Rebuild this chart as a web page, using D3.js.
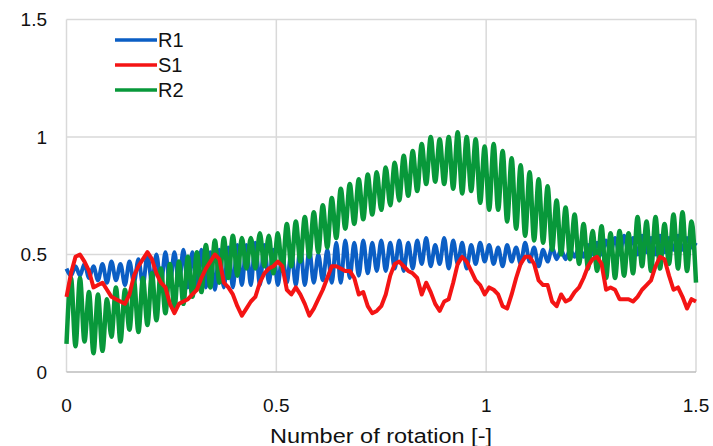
<!DOCTYPE html>
<html lang="en">
<head>
    <meta charset="utf-8">
    <title>Rotation chart</title>
    <script type="text/javascript" src="https://d3js.org/d3.v7.min.js"></script>
    <style type="text/css">
        body { margin: 0; background: #fff; }
        text { font-family: "Liberation Sans", Arial, sans-serif; fill: #111; }
    </style>
</head>
<body>
<script type="text/javascript">

    //Width and height
    var w = 713;
    var h = 446;

    // samples are taken every half oscillation, from 0 to 1.5 rotation
    var sample_count = 141;
    var x_max = 1.5;

    var series_names = ["R1", "S1", "R2"];
    var series_colors = ["#0b5ec4", "#f41414", "#08983a"];

    var x_ticks = [0, 0.5, 1, 1.5];
    var x_tick_labels = ["0", "0.5", "1", "1.5"];
    var y_ticks = [0, 0.5, 1, 1.5];
    var y_tick_labels = ["0", "0.5", "1", "1.5"];

    var r1_values = [
        0.44, 0.41, 0.45, 0.41, 0.46, 0.40, 0.45, 0.39, 0.46, 0.38,
        0.47, 0.39, 0.46, 0.37, 0.47, 0.38, 0.48, 0.37, 0.50, 0.38,
        0.50, 0.37, 0.51, 0.37, 0.51, 0.37, 0.52, 0.36, 0.51, 0.35,
        0.52, 0.36, 0.51, 0.35, 0.52, 0.36, 0.53, 0.36, 0.54, 0.37,
        0.54, 0.37, 0.55, 0.37, 0.54, 0.38, 0.52, 0.37, 0.50, 0.38,
        0.51, 0.37, 0.53, 0.37, 0.52, 0.38, 0.50, 0.39, 0.52, 0.38,
        0.55, 0.38, 0.56, 0.40, 0.55, 0.41, 0.56, 0.42, 0.55, 0.43,
        0.56, 0.43, 0.55, 0.44, 0.56, 0.43, 0.55, 0.44, 0.56, 0.46,
        0.57, 0.45, 0.54, 0.46, 0.57, 0.44, 0.56, 0.46, 0.55, 0.44,
        0.54, 0.46, 0.55, 0.47, 0.54, 0.46, 0.53, 0.45, 0.54, 0.47,
        0.53, 0.46, 0.55, 0.47, 0.53, 0.45, 0.52, 0.47, 0.53, 0.48,
        0.52, 0.48, 0.52, 0.49, 0.53, 0.49, 0.54, 0.50, 0.55, 0.50,
        0.56, 0.51, 0.57, 0.50, 0.58, 0.51, 0.57, 0.50, 0.58, 0.51,
        0.57, 0.50, 0.58, 0.51, 0.57, 0.52, 0.58, 0.52, 0.57, 0.53,
        0.55
    ];

    var s1_values = [
        0.32, 0.42, 0.49, 0.50, 0.47, 0.43, 0.36, 0.37, 0.38, 0.35,
        0.32, 0.31, 0.30, 0.29, 0.33, 0.41, 0.45, 0.48, 0.51, 0.48,
        0.42, 0.38, 0.36, 0.29, 0.25, 0.29, 0.30, 0.31, 0.33, 0.35,
        0.40, 0.44, 0.47, 0.50, 0.48, 0.38, 0.36, 0.33, 0.28, 0.24,
        0.27, 0.30, 0.32, 0.38, 0.42, 0.44, 0.45, 0.47, 0.45, 0.35,
        0.33, 0.36, 0.33, 0.29, 0.24, 0.27, 0.31, 0.35, 0.40, 0.45,
        0.45, 0.44, 0.43, 0.43, 0.40, 0.33, 0.34, 0.28, 0.25, 0.26,
        0.28, 0.33, 0.41, 0.46, 0.47, 0.45, 0.43, 0.42, 0.40, 0.33,
        0.38, 0.34, 0.29, 0.26, 0.30, 0.31, 0.38, 0.46, 0.49, 0.47,
        0.43, 0.39, 0.37, 0.33, 0.36, 0.35, 0.33, 0.28, 0.27, 0.33,
        0.40, 0.46, 0.49, 0.49, 0.46, 0.39, 0.37, 0.37, 0.30, 0.28,
        0.33, 0.30, 0.31, 0.34, 0.36, 0.40, 0.45, 0.48, 0.49, 0.46,
        0.35, 0.36, 0.35, 0.31, 0.31, 0.31, 0.30, 0.32, 0.35, 0.37,
        0.39, 0.45, 0.49, 0.48, 0.41, 0.35, 0.36, 0.32, 0.27, 0.31,
        0.30
    ];

    var r2_values = [
        0.12, 0.40, 0.11, 0.40, 0.13, 0.34, 0.08, 0.33, 0.09, 0.31,
        0.15, 0.36, 0.13, 0.35, 0.18, 0.39, 0.17, 0.40, 0.20, 0.42,
        0.22, 0.44, 0.25, 0.46, 0.27, 0.47, 0.29, 0.49, 0.32, 0.51,
        0.34, 0.54, 0.36, 0.56, 0.38, 0.57, 0.40, 0.58, 0.41, 0.57,
        0.44, 0.57, 0.44, 0.59, 0.45, 0.58, 0.42, 0.59, 0.43, 0.63,
        0.45, 0.64, 0.47, 0.66, 0.49, 0.68, 0.51, 0.71, 0.53, 0.74,
        0.57, 0.78, 0.61, 0.80, 0.63, 0.82, 0.65, 0.84, 0.67, 0.85,
        0.69, 0.87, 0.71, 0.89, 0.73, 0.92, 0.75, 0.94, 0.77, 0.97,
        0.80, 1.00, 0.81, 0.99, 0.80, 1.00, 0.78, 1.02, 0.76, 1.00,
        0.77, 0.99, 0.72, 0.96, 0.69, 0.97, 0.69, 0.94, 0.64, 0.91,
        0.61, 0.88, 0.58, 0.85, 0.56, 0.82, 0.55, 0.79, 0.52, 0.73,
        0.50, 0.70, 0.48, 0.67, 0.46, 0.63, 0.44, 0.60, 0.43, 0.62,
        0.40, 0.59, 0.40, 0.60, 0.41, 0.59, 0.42, 0.66, 0.45, 0.64,
        0.43, 0.66, 0.44, 0.63, 0.46, 0.67, 0.44, 0.68, 0.43, 0.64,
        0.38
    ];

    var rotation = d3.range(sample_count).map(function(i) {
        return i * x_max / (sample_count - 1);
    });

    var margin = { left: 66.5, right: 17, top: 19.5, bottom: 74 };

    var xScale = d3.scaleLinear()
        .domain([0, 1.5])
        .range([margin.left, w - margin.right]);

    var yScale = d3.scaleLinear()
        .domain([0, 1.5])
        .range([h - margin.bottom, margin.top]);

    //Create SVG element
    var svg = d3.select("body")
        .append("svg")
        .attr("width", w)
        .attr("height", h);

    svg.append("rect")
        .attr("width", w)
        .attr("height", h)
        .attr("fill", "#fff");

    // grid lines
    svg.append("g")
        .selectAll("line")
        .data(y_ticks.slice(1))
        .enter()
        .append("line")
        .attr("x1", xScale(0))
        .attr("x2", xScale(1.5))
        .attr("y1", function(d) { return yScale(d); })
        .attr("y2", function(d) { return yScale(d); })
        .attr("stroke", "#d9d9d9")
        .attr("stroke-width", 1.5);

    svg.append("g")
        .selectAll("line")
        .data(x_ticks)
        .enter()
        .append("line")
        .attr("x1", function(d) { return xScale(d); })
        .attr("x2", function(d) { return xScale(d); })
        .attr("y1", yScale(0))
        .attr("y2", yScale(1.5))
        .attr("stroke", "#d9d9d9")
        .attr("stroke-width", 1.5);

    // bottom axis line
    svg.append("line")
        .attr("x1", xScale(0))
        .attr("x2", xScale(1.5))
        .attr("y1", yScale(0))
        .attr("y2", yScale(0))
        .attr("stroke", "#bdbdbd")
        .attr("stroke-width", 1.5);

    // y tick labels
    svg.append("g")
        .selectAll("text")
        .data(y_ticks)
        .enter()
        .append("text")
        .attr("x", 47)
        .attr("y", function(d) { return yScale(d); })
        .attr("dy", "0.35em")
        .attr("text-anchor", "end")
        .attr("font-size", 19)
        .text(function(d, i) { return y_tick_labels[i]; });

    // x tick labels
    svg.append("g")
        .selectAll("text")
        .data(x_ticks)
        .enter()
        .append("text")
        .attr("x", function(d) { return xScale(d); })
        .attr("y", 412)
        .attr("text-anchor", "middle")
        .attr("font-size", 19)
        .text(function(d, i) { return x_tick_labels[i]; });

    svg.append("text")
        .attr("x", 381)
        .attr("y", 443)
        .attr("text-anchor", "middle")
        .attr("font-size", 20)
        .attr("textLength", 222)
        .attr("lengthAdjust", "spacingAndGlyphs")
        .text("Number of rotation [-]");

    // lines, drawn blue, green then red
    var series = [
        { name: "R1", values: r1_values, color: series_colors[0], width: 4, curve: d3.curveMonotoneX },
        { name: "R2", values: r2_values, color: series_colors[2], width: 4.5, curve: d3.curveMonotoneX },
        { name: "S1", values: s1_values, color: series_colors[1], width: 4, curve: d3.curveLinear }
    ];

    series.forEach(function(s) {
        var line = d3.line()
            .x(function(d, i) { return xScale(rotation[i]); })
            .y(function(d) { return yScale(d); })
            .curve(s.curve);

        svg.append("path")
            .datum(s.values)
            .attr("fill", "none")
            .attr("stroke", s.color)
            .attr("stroke-width", s.width)
            .attr("stroke-linejoin", "round")
            .attr("d", line);
    });

    // legend
    var legend = svg.append("g")
        .selectAll("g")
        .data(series_names)
        .enter()
        .append("g")
        .attr("transform", function(d, i) { return "translate(115," + (40 + i * 25) + ")"; });

    legend.append("line")
        .attr("x1", 0)
        .attr("x2", 42)
        .attr("stroke", function(d, i) { return series_colors[i]; })
        .attr("stroke-width", 3.5);

    legend.append("text")
        .attr("x", 43)
        .attr("dy", "0.36em")
        .attr("font-size", 20)
        .text(function(d) { return d; });

</script>
</body>
</html>
